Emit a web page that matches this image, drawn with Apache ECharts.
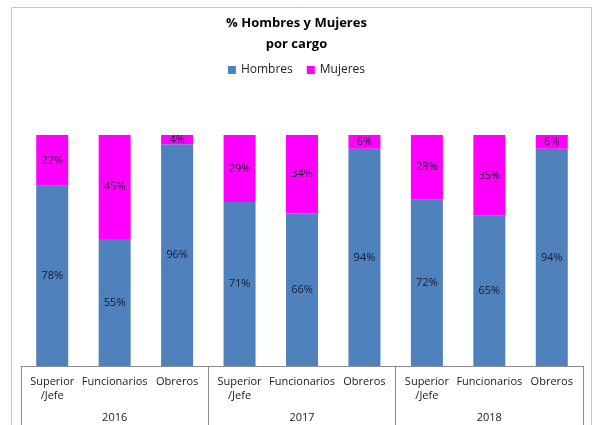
<!DOCTYPE html>
<html><head><meta charset="utf-8">
<script src="https://cdn.jsdelivr.net/npm/echarts@6/dist/echarts.min.js"></script>
<style>html,body{margin:0;padding:0;background:#fff}#c{width:593px;height:425px}</style>
</head><body><div id="c"></div>
<script>
const categories = ['Superior\n/Jefe','Funcionarios','Obreros','Superior\n/Jefe','Funcionarios','Obreros','Superior\n/Jefe','Funcionarios','Obreros'];
const years = ['2016','2017','2018'];
const hombres = [78,55,96,71,66,94,72,65,94];
const mujeres = [22,45,4,29,34,6,28,35,6];
const FONT = '"Open Sans", "Noto Sans", sans-serif';
const chart = echarts.init(document.getElementById('c'), null, {renderer:'canvas'});
chart.setOption({
  animation:false,
  textStyle:{fontFamily:FONT},
  graphic:[{type:'rect', shape:{x:11.5,y:7.5,width:580,height:430}, style:{fill:'none',stroke:'#c4c4c4',lineWidth:1}, silent:true}],
  title:{text:'% Hombres y Mujeres\npor cargo', left:'center', top:8,
    textStyle:{fontFamily:FONT,fontSize:13,fontWeight:'bold',color:'#000',lineHeight:21}},
  legend:{top:59, left:'center', itemWidth:8, itemHeight:8, itemGap:14,
    icon:'rect', textStyle:{fontFamily:FONT,fontSize:12,color:'#222'},
    data:['Hombres','Mujeres']},
  grid:{left:21,right:10,top:135,bottom:59},
  xAxis:[{type:'category', data:categories, position:'bottom',
      axisLine:{lineStyle:{color:'#8c8c8c'}}, axisTick:{show:false},
      axisLabel:{interval:0, margin:9, fontSize:11, color:'#1a1a1a', lineHeight:14, fontFamily:FONT}},
    {type:'category', data:years, position:'bottom', offset:64,
      axisLine:{show:false},
      axisTick:{show:true, inside:true, length:64, lineStyle:{color:'#8c8c8c'}},
      axisLabel:{inside:true, margin:7, fontSize:11, color:'#1a1a1a', fontFamily:FONT}}],
  yAxis:{type:'value', min:0, max:100, show:false},
  series:[
    {name:'Hombres', type:'bar', stack:'t', data:hombres, barWidth:32, xAxisIndex:0,
      itemStyle:{color:'#4f81bd'},
      label:{show:true, position:'inside', formatter:'{c}%', fontSize:11, color:'#1a1a2a', fontFamily:FONT}},
    {name:'Mujeres', type:'bar', stack:'t', data:mujeres, barWidth:32, xAxisIndex:0,
      itemStyle:{color:'#ff00ff'},
      label:{show:true, position:'inside', formatter:'{c}%', fontSize:11, color:'#1a1a2a', fontFamily:FONT}}
  ]
});
</script></body></html>
